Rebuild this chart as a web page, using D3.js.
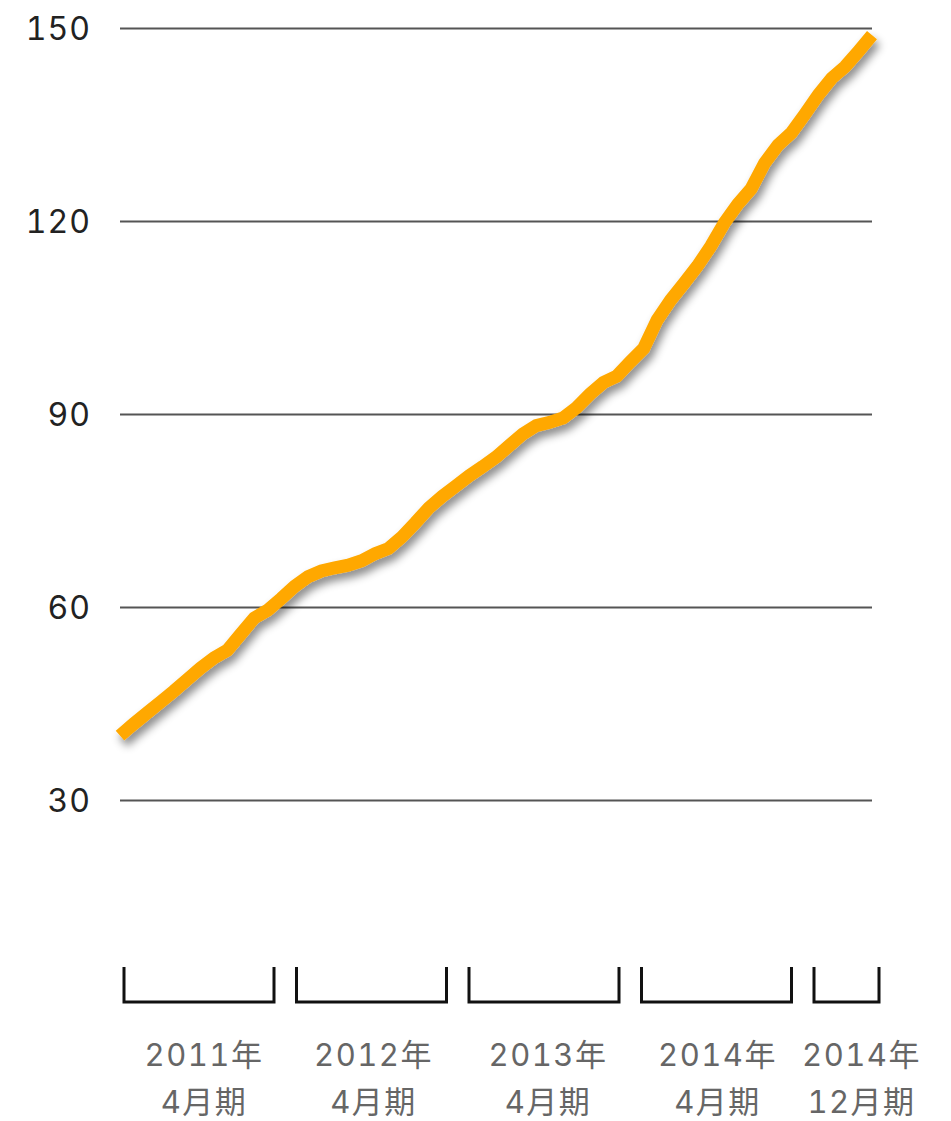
<!DOCTYPE html>
<html>
<head>
<meta charset="utf-8">
<script src="https://cdn.jsdelivr.net/npm/d3@7"></script>
<style>
  html, body { margin: 0; padding: 0; background: #ffffff; }
  svg { display: block; }
  text { font-variant-numeric: tabular-nums; }
</style>
</head>
<body>
<div id="chart"></div>
<script>
// ---- data ----
const values = [40.0, 41.8, 43.5, 45.2, 46.9, 48.7, 50.5, 52.1, 53.3, 55.8,
  58.3, 59.5, 61.3, 63.2, 64.7, 65.6, 66.1, 66.5, 67.2, 68.3,
  69.1, 70.9, 73.1, 75.4, 77.2, 78.8, 80.4, 81.8, 83.3, 85.1,
  86.9, 88.2, 88.7, 89.4, 91.0, 93.1, 94.9, 95.9, 98.1, 100.2,
  104.6, 107.7, 110.3, 113.0, 116.1, 119.7, 122.6, 125.0, 129.0, 131.8,
  133.7, 136.6, 139.6, 142.2, 144.0, 146.4, 148.9];
const yTicks = [30, 60, 90, 120, 150];
const periodYear = ["2011年", "2012年", "2013年", "2014年", "2014年"];
const periodMonth = ["4月期", "4月期", "4月期", "4月期", "12月期"];
const periodStart = [0, 13.8, 27.6, 41.4, 55.2];   // months
const periodLength = [12, 12, 12, 12, 5.2];        // months

// ---- layout ----
const W = 951, H = 1121;
const left = 120, right = 872;
const svg = d3.select("#chart").append("svg").attr("width", W).attr("height", H);

const x = d3.scaleLinear().domain([0, values.length - 1]).range([left, right]);
const y = d3.scaleLinear().domain([30, 150]).range([800, 28]);
const px = d3.scaleLinear().domain([0, 12]).range([124, 274]);

const font = "Inter, 'Noto Sans CJK JP', sans-serif";

// shadow filter
const defs = svg.append("defs");
const f = defs.append("filter").attr("id", "shadow")
  .attr("x", "-10%").attr("y", "-10%").attr("width", "120%").attr("height", "120%");
f.append("feDropShadow").attr("dx", 3).attr("dy", 6).attr("stdDeviation", 4)
  .attr("flood-color", "#000").attr("flood-opacity", 0.45);

// y axis: gridlines + labels
const yAxis = d3.axisLeft(y).tickValues(yTicks).tickSize(-(right - left)).tickPadding(29)
  .tickFormat(d3.format("d"));
const gy = svg.append("g").attr("transform", `translate(${left},0)`).call(yAxis);
gy.select(".domain").remove();
gy.selectAll(".tick line").attr("stroke", "#555").attr("stroke-width", 2);
gy.selectAll(".tick text").attr("fill", "#222").style("font-family", font)
  .style("font-size", "32px").style("letter-spacing", "1px").attr("dy", "0.36em");

// line
const line = d3.line().x((d, i) => x(i)).y(d => y(d));
svg.append("path").datum(values)
  .attr("d", line)
  .attr("fill", "none")
  .attr("stroke", "#FFA800")
  .attr("stroke-width", 13)
  .attr("stroke-linejoin", "miter")
  .attr("stroke-linecap", "butt")
  .attr("filter", "url(#shadow)");

// period brackets
const periods = periodYear.map((yr, i) => ({
  yr, mo: periodMonth[i], s: periodStart[i], e: periodStart[i] + periodLength[i]
}));
const bTop = 967, bBot = 1002;
const gb = svg.append("g");
gb.selectAll("path.br").data(periods).join("path")
  .attr("class", "br")
  .attr("d", d => `M${px(d.s)},${bTop}V${bBot}H${px(d.e)}V${bTop}`)
  .attr("fill", "none").attr("stroke", "#111").attr("stroke-width", 3);

const labelShift = [5, 2, 4, 1, 15];
const gl = svg.append("g").style("font-family", font).style("font-size", "31px")
  .style("letter-spacing", "1.5px")
  .attr("fill", "#666").attr("text-anchor", "middle");
gl.selectAll("text.yr").data(periods).join("text").attr("class", "yr")
  .attr("x", (d, i) => (px(d.s) + px(d.e)) / 2 + labelShift[i])
  .attr("y", 1066).text(d => d.yr);
gl.selectAll("text.mo").data(periods).join("text").attr("class", "mo")
  .attr("x", (d, i) => (px(d.s) + px(d.e)) / 2 + labelShift[i])
  .attr("y", 1113).text(d => d.mo);
</script>
</body>
</html>
